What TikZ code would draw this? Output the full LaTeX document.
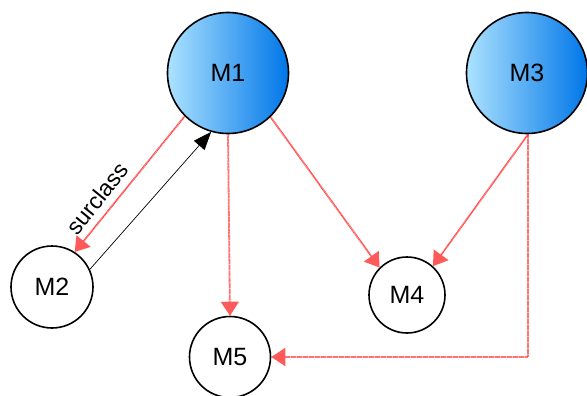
\documentclass[tikz,border=0pt]{standalone}
\usepackage{fontspec}
\setmainfont{Liberation Sans}
\usetikzlibrary{arrows.meta}
\definecolor{lblue}{RGB}{172,226,255}
\definecolor{dblue}{RGB}{0,118,232}
\definecolor{redline}{RGB}{255,40,40}
\definecolor{redtip}{RGB}{255,90,90}
\tikzset{
  redtipstyle/.tip={Triangle[width=18pt,length=14pt,color=redtip]},
  blacktipstyle/.tip={Triangle[width=14pt,length=18pt]}
}
\begin{document}
\begin{tikzpicture}[x=1pt,y=-1pt,
  cls/.style={circle,draw=black,line width=1.6pt,inner sep=0pt,font=\fontsize{25}{30}\selectfont},
  bluecls/.style={cls,left color=lblue,right color=dblue},
  whitecls/.style={cls,fill=white},
  redarrow/.style={draw=redline,line width=1.8pt,dash pattern=on 0.6pt off 0.6pt,arrows={-redtipstyle}},
  blackarrow/.style={draw=black,line width=0.7pt,arrows={-blacktipstyle}}]
\useasboundingbox (0,0) rectangle (587,396);
\node[bluecls,minimum size=121pt] (M1) at (228,73) {M1};
\node[bluecls,minimum size=121pt] (M3) at (527,73) {M3};
\node[whitecls,minimum size=82pt] (M2) at (52,287) {M2};
\node[whitecls,minimum size=76pt] (M4) at (407,295) {M4};
\node[whitecls,minimum size=81pt] (M5) at (230,357) {M5};
\coordinate (corner) at (528,357);
\draw[redarrow] (M1.225) -- node[sloped,above,pos=0.68,font=\fontsize{23}{26}\selectfont,inner sep=7pt] {surclass} (M2.57);
\draw[blackarrow] (M2.25) -- (M1.254);
\draw[redarrow] (M1.south) -- (M5.north);
\draw[redarrow] (M1.-46) -- (M4.135);
\draw[redarrow] (M3.-89) -- (M4.48);
\draw[redarrow] (M3.-89) -- (corner) -- (M5.east);
\end{tikzpicture}
\end{document}
